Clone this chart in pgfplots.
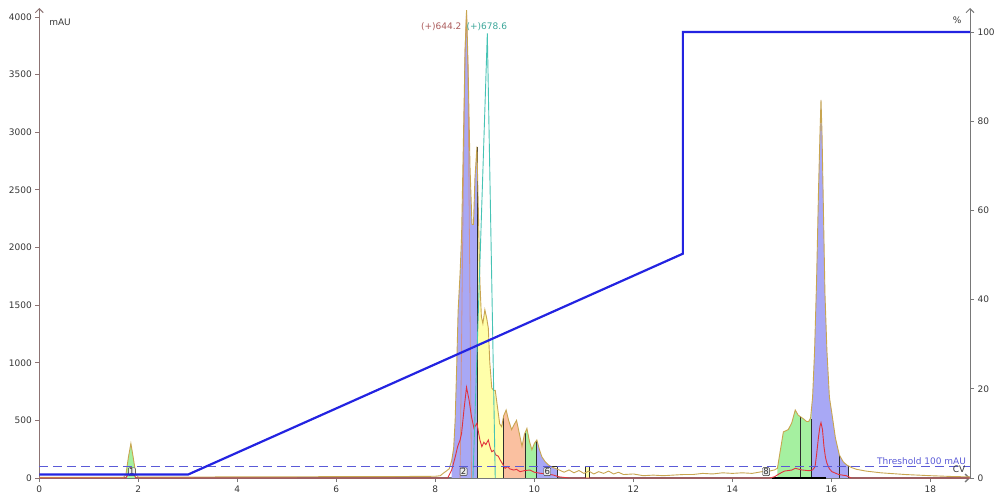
\documentclass[border=0pt]{standalone}
\usepackage{fontspec}
\setmainfont{DejaVu Sans}
\usepackage{pgfplots}
\usepackage{pgfplotstable}
\pgfplotsset{compat=1.18}
\usepgfplotslibrary{fillbetween}
\usetikzlibrary{arrows.meta}

\definecolor{uvcol}{RGB}{200,165,80}
\definecolor{fblue}{RGB}{168,168,245}
\definecolor{fyellow}{RGB}{255,255,170}
\definecolor{forange}{RGB}{250,192,160}
\definecolor{fgreen}{RGB}{165,240,160}
\definecolor{redl}{RGB}{225,50,60}
\definecolor{teall}{RGB}{70,195,180}
\definecolor{pinkl}{RGB}{205,145,145}
\definecolor{pinktxt}{RGB}{170,90,90}
\definecolor{gradblue}{RGB}{35,35,225}
\definecolor{thr}{RGB}{90,90,215}
\definecolor{axleft}{RGB}{140,115,115}
\definecolor{axgrey}{RGB}{120,120,120}
\definecolor{tickgrey}{RGB}{55,55,55}
\definecolor{fracline}{RGB}{45,45,45}

% UV trace (mAU)
\pgfplotstableread{
x y
0 5
1.0 5
1.7 5
1.75 30
1.80 180
1.85 300
1.90 170
1.95 30
2.0 8
3 8
4 10
5 10
6 12
7 12
8 15
8.1 20
8.16 41
8.22 60
8.28 80
8.33 150
8.37 260
8.40 500
8.43 950
8.46 1450
8.50 1780
8.53 2100
8.57 3000
8.60 3700
8.63 4060
8.66 3600
8.70 2700
8.74 2200
8.77 2200
8.80 2600
8.84 2875
8.87 2300
8.90 1700
8.93 1400
8.96 1340
9.00 1460
9.04 1380
9.07 1300
9.10 1000
9.14 780
9.18 760
9.21 760
9.26 600
9.30 470
9.34 445
9.38 540
9.43 590
9.48 500
9.54 420
9.60 470
9.64 500
9.69 400
9.75 275
9.80 380
9.85 430
9.90 320
9.95 245
10.00 300
10.05 330
10.10 250
10.15 185
10.22 140
10.28 115
10.35 95
10.42 84
10.5 70
10.6 50
10.7 70
10.8 45
10.9 65
11.0 40
11.1 60
11.2 35
11.3 55
11.4 40
11.5 60
11.6 35
11.7 50
11.8 30
12.0 35
12.2 20
12.4 25
12.6 20
12.8 25
13.0 30
13.2 30
13.4 40
13.6 35
13.8 45
14.0 40
14.2 45
14.4 40
14.6 55
14.75 60
14.85 70
14.91 84
14.98 270
15.03 400
15.13 420
15.20 480
15.27 590
15.33 545
15.43 515
15.50 490
15.54 490
15.58 520
15.62 700
15.66 1100
15.70 1700
15.74 2500
15.77 3000
15.79 3280
15.81 3000
15.84 2300
15.87 1600
15.91 1100
15.96 700
16.01 560
16.08 350
16.16 200
16.24 140
16.31 113
16.41 90
16.51 75
16.7 60
17.0 45
17.5 30
18.0 20
18.5 12
18.8 10
}\uvtable

% second UV trace (mAU)
\pgfplotstableread{
x y
0 0
1.75 0
1.80 40
1.85 90
1.90 40
1.95 0
8.25 0
8.33 69
8.40 180
8.45 272
8.50 330
8.53 388
8.58 600
8.63 787
8.68 680
8.73 532
8.78 431
8.84 475
8.87 400
8.90 330
8.94 272
8.98 310
9.02 290
9.07 330
9.11 260
9.14 228
9.18 240
9.22 200
9.27 190
9.31 156
9.36 120
9.41 84
9.46 100
9.50 80
9.58 69
9.64 75
9.71 55
9.81 65
9.91 69
10.0 50
10.12 41
10.25 35
10.38 26
10.5 10
10.7 0
14.75 0
14.85 10
14.94 35
15.05 60
15.20 69
15.27 84
15.40 70
15.55 63
15.62 70
15.67 98
15.70 200
15.74 358
15.77 450
15.79 480
15.82 420
15.85 272
15.88 180
15.91 128
15.96 80
16.01 55
16.15 30
16.3 20
16.4 0
18.8 0
}\redtable

\begin{document}
\begin{tikzpicture}
\begin{axis}[
    at={(39.3pt,22pt)}, anchor=south west,
    scale only axis, width=930.7pt, height=470pt,
    xmin=0, xmax=18.8, ymin=0, ymax=4078,
    axis x line*=bottom, axis y line*=left,
    xtick={0,2,...,18}, ytick={0,500,...,4000},
    tick align=outside, major tick length=4pt,
    x axis line style={draw=axgrey, line width=1.3pt, -{Straight Barb[length=4pt,width=8pt]}},
    y axis line style={draw=axleft, line width=1pt, -{Straight Barb[length=4pt,width=8pt]}},
    xtick style={draw=axgrey, line width=0.8pt},
    ytick style={draw=axleft, line width=0.8pt},
    ticklabel style={font=\fontsize{9}{10}\selectfont, text=tickgrey},
    /pgf/number format/assume math mode=true,
    scaled y ticks=false,
    yticklabel style={/pgf/number format/1000 sep={}},
    clip=false,
]
\addplot[draw=none, name path=uv] table {\uvtable};
\addplot[draw=none, name path=zero] coordinates {(0,0) (18.8,0)};

\addplot[fill=fgreen, draw=none] fill between[of=uv and zero, soft clip={domain=1.75:1.95}];
\addplot[fill=fblue, draw=none] fill between[of=uv and zero, soft clip={domain=8.33:8.86}];
\addplot[fill=fyellow, draw=none] fill between[of=uv and zero, soft clip={domain=8.86:9.37}];
\addplot[fill=forange, draw=none] fill between[of=uv and zero, soft clip={domain=9.37:9.81}];
\addplot[fill=fgreen, draw=none] fill between[of=uv and zero, soft clip={domain=9.81:10.05}];
\addplot[fill=fblue, draw=none] fill between[of=uv and zero, soft clip={domain=10.05:10.47}];
\addplot[fill=fgreen, draw=none] fill between[of=uv and zero, soft clip={domain=14.91:15.60}];
\addplot[fill=fblue, draw=none] fill between[of=uv and zero, soft clip={domain=15.60:16.34}];
\addplot[fill=fyellow, draw=fracline, line width=0.6pt] coordinates {(11.03,0) (11.03,100) (11.11,100) (11.11,0)};

% fraction boundaries
\addplot[fracline, line width=0.9pt] coordinates {(8.86,0) (8.86,2875)};
\addplot[fracline, line width=0.9pt] coordinates {(9.37,0) (9.37,520)};
\addplot[fracline, line width=0.9pt] coordinates {(9.81,0) (9.81,390)};
\addplot[fracline, line width=0.9pt] coordinates {(10.05,0) (10.05,330)};
\addplot[fracline, line width=0.9pt] coordinates {(10.47,0) (10.47,100) (10.30,100)};
\addplot[fracline, line width=0.9pt] coordinates {(15.38,0) (15.38,530)};
\addplot[fracline, line width=0.9pt] coordinates {(15.60,0) (15.60,515)};
\addplot[fracline, line width=0.9pt] coordinates {(16.16,0) (16.16,200)};
\addplot[fracline, line width=0.9pt] coordinates {(16.34,0) (16.34,100)};
\addplot[black, line width=1.5pt] coordinates {(14.8,0) (15.9,0)};

\addplot[pinkl, line width=0.8pt] coordinates {(8.50,0) (8.55,2000) (8.60,3700) (8.63,4040) (8.66,3500) (8.70,1500) (8.73,0)};
\addplot[uvcol, line width=0.9pt] table {\uvtable};
\addplot[redl, line width=0.9pt] table {\redtable};
\addplot[teall, line width=0.9pt] coordinates {(8.76,0) (9.05,3858) (9.21,0)};

% threshold
\addplot[thr, line width=1pt, dash pattern=on 9pt off 5pt] coordinates {(0,100) (18.8,100)};

% fraction numbers
\node[draw=fracline, fill=white!85!gray, rounded corners=1pt, inner sep=0.8pt, font=\fontsize{8.5}{8.5}\selectfont, text=fracline] at (axis cs:1.87,55) {1};
\node[draw=fracline, fill=white!85!gray, rounded corners=1pt, inner sep=0.8pt, font=\fontsize{8.5}{8.5}\selectfont, text=fracline] at (axis cs:8.57,55) {2};
\node[draw=fracline, fill=white!85!gray, rounded corners=1pt, inner sep=0.8pt, font=\fontsize{8.5}{8.5}\selectfont, text=fracline] at (axis cs:10.26,55) {6};
\node[draw=fracline, fill=white!85!gray, rounded corners=1pt, inner sep=0.8pt, font=\fontsize{8.5}{8.5}\selectfont, text=fracline] at (axis cs:14.68,55) {8};

\node[anchor=west, font=\fontsize{9}{10}\selectfont, text=tickgrey] at (axis cs:0.13,3955) {mAU};
\node[font=\fontsize{9}{10}\selectfont, text=pinktxt] at (axis cs:8.12,3914) {(+)644.2};
\node[font=\fontsize{9}{10}\selectfont, text=teall!85!black] at (axis cs:9.04,3914) {(+)678.6};
\node[font=\fontsize{9}{10}\selectfont, text=thr] at (axis cs:17.82,145) {Threshold 100 mAU};
\node[font=\fontsize{9}{10}\selectfont, text=tickgrey] at (axis cs:18.58,75) {CV};
\node[font=\fontsize{9}{10}\selectfont, text=tickgrey] at (axis cs:18.54,3975) {\%};
\end{axis}

\begin{axis}[
    at={(39.3pt,22pt)}, anchor=south west,
    scale only axis, width=930.7pt, height=470pt,
    xmin=0, xmax=18.8, ymin=0, ymax=105.4,
    axis x line=none, axis y line*=right,
    ytick={0,20,...,100},
    tick align=outside, major tick length=4pt,
    y axis line style={draw=axgrey, line width=1pt, -{Straight Barb[length=4pt,width=8pt]}},
    ytick style={draw=axgrey, line width=0.8pt},
    ticklabel style={font=\fontsize{9}{10}\selectfont, text=tickgrey},
    /pgf/number format/assume math mode=true,
    clip=false,
]
\addplot[gradblue, line width=2.2pt] coordinates {(0,0.8) (3.01,0.8) (13.0,50.3) (13.0,100) (18.8,100)};
\end{axis}
\pgfresetboundingbox
\path[use as bounding box] (0,0) rectangle (1000pt,500pt);
\end{tikzpicture}
\end{document}
